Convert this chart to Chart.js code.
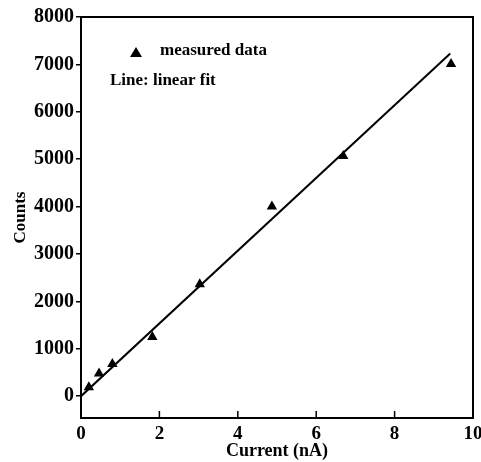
<!DOCTYPE html>
<html>
<head>
<meta charset="utf-8">
<script src="https://cdn.jsdelivr.net/npm/chart.js@4/dist/chart.umd.min.js"></script>
<style>
  html, body { margin: 0; padding: 0; background: #fff; }
  #wrap { width: 481px; height: 462px; }
</style>
</head>
<body>
<div id="wrap"><canvas id="countsChart" width="481" height="462"></canvas></div>
<script>
// measured points
var currentNA = [0.2, 0.46, 0.8, 1.82, 3.03, 4.87, 6.69, 9.44];
var counts = [190, 480, 680, 1250, 2360, 4000, 5070, 7010];

// ends of the linear fit line
var fitCurrent = [0, 9.42];
var fitCounts = [0, 7230];

var xTicks = [0, 2, 4, 6, 8, 10];
var yTicks = [0, 1000, 2000, 3000, 4000, 5000, 6000, 7000, 8000];

var serif = "'Liberation Serif', 'DejaVu Serif', serif";

function toPoints(xs, ys) {
  return xs.map(function (x, i) { return { x: x, y: ys[i] }; });
}

// frame, inward x ticks and the little legend text
var framePlugin = {
  id: 'frame',
  afterDraw: function (chart) {
    var ctx = chart.ctx;
    var a = chart.chartArea;
    var xs = chart.scales.x;
    ctx.save();
    ctx.strokeStyle = '#000';
    ctx.lineWidth = 2;
    ctx.strokeRect(a.left, a.top, a.right - a.left, a.bottom - a.top);
    ctx.lineWidth = 1.5;
    xTicks.forEach(function (v) {
      var px = xs.getPixelForValue(v);
      ctx.beginPath();
      ctx.moveTo(px, a.bottom);
      ctx.lineTo(px, a.bottom - 7);
      ctx.stroke();
    });

    // legend
    var lx = a.left + 55, ly = a.top + 35;
    ctx.fillStyle = '#000';
    ctx.beginPath();
    ctx.moveTo(lx, ly - 5);
    ctx.lineTo(lx + 6, ly + 5);
    ctx.lineTo(lx - 6, ly + 5);
    ctx.closePath();
    ctx.fill();
    ctx.font = 'bold 17px ' + serif;
    ctx.textBaseline = 'middle';
    ctx.fillText('measured data', lx + 24, ly - 1);
    ctx.fillText('Line: linear fit', a.left + 29, ly + 29);
    ctx.restore();
  }
};

var ctx = document.getElementById('countsChart').getContext('2d');
var countsChart = new Chart(ctx, {
  type: 'scatter',
  data: {
    datasets: [{
      label: 'measured data',
      data: toPoints(currentNA, counts),
      pointStyle: 'triangle',
      pointRadius: 6,
      backgroundColor: '#000',
      borderColor: '#000',
      borderWidth: 0
    }, {
      label: 'linear fit',
      type: 'line',
      data: toPoints(fitCurrent, fitCounts),
      borderColor: '#000',
      borderWidth: 2,
      pointRadius: 0,
      fill: false
    }]
  },
  plugins: [framePlugin],
  options: {
    responsive: false,
    animation: false,
    layout: { padding: { top: 17, right: 0, left: 0, bottom: 0 } },
    plugins: {
      legend: { display: false },
      tooltip: { enabled: false }
    },
    scales: {
      x: {
        type: 'linear',
        min: 0,
        max: 10,
        afterBuildTicks: function (scale) {
          scale.ticks = xTicks.map(function (v) { return { value: v }; });
        },
        afterFit: function (scale) { scale.height = 44; scale.paddingRight = 8; },
        grid: { display: false, drawTicks: false },
        border: { display: true, color: '#000', width: 2 },
        ticks: {
          color: '#000',
          padding: 5,
          maxRotation: 0,
          font: { family: serif, size: 19, weight: 'bold' },
          callback: function (v) { return String(v); }
        },
        title: {
          display: true,
          text: 'Current (nA)',
          color: '#000',
          padding: 0,
          font: { family: serif, size: 18, weight: 'bold' }
        }
      },
      y: {
        type: 'linear',
        min: -460,
        max: 8000,
        afterBuildTicks: function (scale) {
          scale.ticks = yTicks.map(function (v) { return { value: v }; });
        },
        afterFit: function (scale) { scale.width = 81; },
        grid: { drawOnChartArea: false, drawTicks: true, tickLength: 5, color: '#000', lineWidth: 1.5 },
        border: { display: true, color: '#000', width: 2 },
        ticks: {
          color: '#000',
          padding: 2,
          font: { family: serif, size: 20, weight: 'bold' },
          callback: function (v) { return String(v); }
        },
        title: {
          display: true,
          text: 'Counts',
          color: '#000',
          padding: { top: 10, bottom: 0 },
          font: { family: serif, size: 17, weight: 'bold' }
        }
      }
    }
  }
});
</script>
</body>
</html>
